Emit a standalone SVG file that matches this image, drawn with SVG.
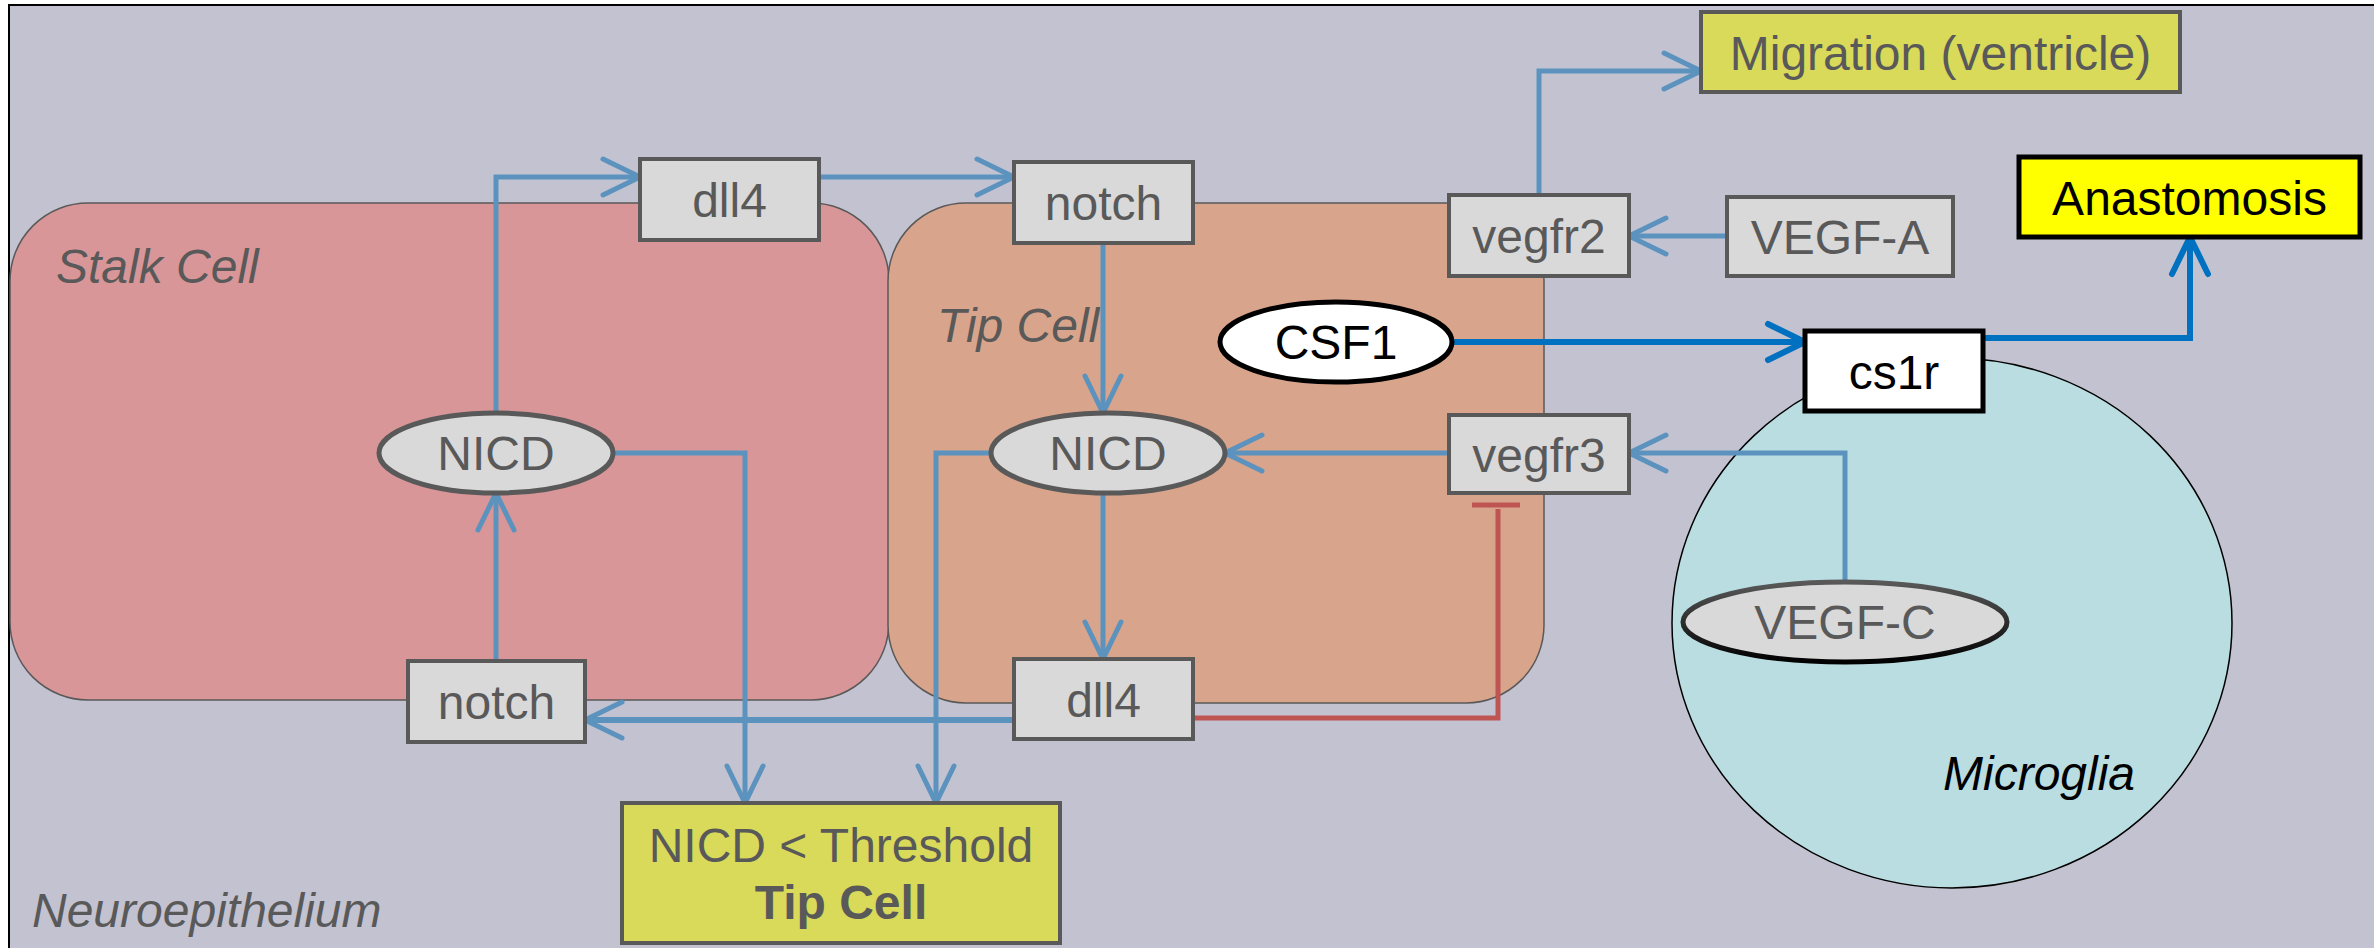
<svg xmlns="http://www.w3.org/2000/svg" width="2374" height="948" viewBox="0 0 2374 948">
<style>
text{font-family:"Liberation Sans",Arial,sans-serif;font-size:48px;text-anchor:middle}
.g{fill:#595959}
.k{fill:#000}
.lbl{text-anchor:start;font-style:italic}
.box{fill:#D9D9D9;stroke:#595959;stroke-width:4}
.ell{fill:#D9D9D9;stroke:#595959;stroke-width:5}
.yel{fill:#D9D95A;stroke:#595959;stroke-width:4}
.c{fill:none;stroke:#5B93BE;stroke-width:5;marker-end:url(#ab)}
.d{fill:none;stroke:#0070C0;stroke-width:6;marker-end:url(#ad)}
.r{fill:none;stroke:#BF5553;stroke-width:5}
</style>
<defs>
<marker id="ab" markerUnits="userSpaceOnUse" orient="auto" overflow="visible" markerWidth="44" markerHeight="44" refX="0" refY="0" viewBox="-40 -22 44 44">
<path d="M-37,-18 L0,0 L-37,18" fill="none" stroke="#5B93BE" stroke-width="5" stroke-linecap="round"/>
</marker>
<marker id="ad" markerUnits="userSpaceOnUse" orient="auto" overflow="visible" markerWidth="44" markerHeight="44" refX="0" refY="0" viewBox="-40 -22 44 44">
<path d="M-37,-18 L0,0 L-37,18" fill="none" stroke="#0070C0" stroke-width="6" stroke-linecap="round"/>
</marker>
<linearGradient id="vg" x1="0" y1="0" x2="0" y2="1">
<stop offset="0" stop-color="#595959"/>
<stop offset="1" stop-color="#000"/>
</linearGradient>
</defs>
<rect x="0" y="0" width="2374" height="948" fill="#fff"/>
<rect id="neuroepithelium" x="9" y="5" width="2372" height="950" fill="#C3C2D0" stroke="#000" stroke-width="2"/>
<g id="stalk-cell">
<rect x="10" y="203" width="879" height="497" rx="78" ry="78" fill="#D89698" stroke="#595959" stroke-width="1.5"/>
<text class="g lbl" x="56" y="283">Stalk Cell</text>
</g>
<g id="tip-cell">
<rect x="888" y="203" width="656" height="500" rx="78" ry="78" fill="#D9A48C" stroke="#595959" stroke-width="1.5"/>
<text class="g lbl" x="937" y="342">Tip Cell</text>
</g>
<g id="microglia">
<ellipse cx="1952" cy="623" rx="280" ry="265" fill="#B9DDE1" stroke="#000" stroke-width="1.5"/>
<text class="k lbl" x="1943" y="790">Microglia</text>
</g>
<text class="g lbl" x="32" y="927">Neuroepithelium</text>
<g id="connectors">
<polyline class="c" points="496,413 496,177 640,177"/>
<polyline class="c" points="819,177 1014,177"/>
<polyline class="c" points="1103,243 1103,413"/>
<polyline class="c" points="1539,195 1539,71 1701,71"/>
<polyline class="c" points="1727,236 1629,236"/>
<polyline class="c" points="1449,453 1225,453"/>
<polyline class="c" points="1845,582 1845,453 1629,453"/>
<polyline class="c" points="1103,493 1103,659"/>
<polyline class="c" points="1014,720 585,720" style="stroke-width:6"/>
<polyline class="c" points="496,661 496,493"/>
<polyline class="c" points="613,453 745,453 745,803"/>
<polyline class="c" points="990,453 936,453 936,803"/>
<polyline class="d" points="1452,342 1805,342"/>
<polyline class="d" points="1983,338 2190,338 2190,237"/>
<polyline class="r" points="1193,718 1498,718 1498,509"/>
<line class="r" x1="1472" y1="505" x2="1520" y2="505"/>
</g>
<g id="dll4-top"><rect class="box" x="640" y="159" width="179" height="81"/><text class="g" x="729.5" y="217">dll4</text></g>
<g id="notch-top"><rect class="box" x="1014" y="162" width="179" height="81"/><text class="g" x="1103.5" y="220">notch</text></g>
<g id="vegfr2"><rect class="box" x="1449" y="195" width="180" height="81"/><text class="g" x="1539" y="253">vegfr2</text></g>
<g id="vegfr3"><rect class="box" x="1449" y="415" width="180" height="78"/><text class="g" x="1539" y="472">vegfr3</text></g>
<g id="vegf-a"><rect class="box" x="1727" y="197" width="226" height="79"/><text class="g" x="1840" y="254">VEGF-A</text></g>
<g id="notch-bottom"><rect class="box" x="408" y="661" width="177" height="81"/><text class="g" x="496.5" y="719">notch</text></g>
<g id="dll4-bottom"><rect class="box" x="1014" y="659" width="179" height="80"/><text class="g" x="1103.5" y="717">dll4</text></g>
<g id="migration"><rect class="yel" x="1701" y="12" width="479" height="80"/><text class="g" x="1940.5" y="70">Migration (ventricle)</text></g>
<g id="anastomosis"><rect x="2019" y="157" width="341" height="80" fill="#FFFF00" stroke="#000" stroke-width="5"/><text class="k" x="2189.5" y="215">Anastomosis</text></g>
<g id="cs1r"><rect x="1805" y="331" width="178" height="80" fill="#fff" stroke="#000" stroke-width="5"/><text class="k" x="1894" y="389">cs1r</text></g>
<g id="threshold"><rect class="yel" x="622" y="803" width="438" height="140"/><text class="g" x="841" y="862">NICD &lt; Threshold</text><text class="g" x="841" y="919" font-weight="bold">Tip Cell</text></g>
<g id="nicd-stalk"><ellipse class="ell" cx="496" cy="453" rx="117" ry="40"/><text class="g" x="496" y="470">NICD</text></g>
<g id="nicd-tip"><ellipse class="ell" cx="1108" cy="453" rx="117" ry="40"/><text class="g" x="1108" y="470">NICD</text></g>
<g id="csf1"><ellipse cx="1336" cy="342" rx="116" ry="40" fill="#fff" stroke="#000" stroke-width="5"/><text class="k" x="1336" y="359">CSF1</text></g>
<g id="vegf-c"><ellipse cx="1845" cy="622" rx="162" ry="40" fill="#D9D9D9" stroke="url(#vg)" stroke-width="5"/><text class="g" x="1845" y="639">VEGF-C</text></g>
</svg>
